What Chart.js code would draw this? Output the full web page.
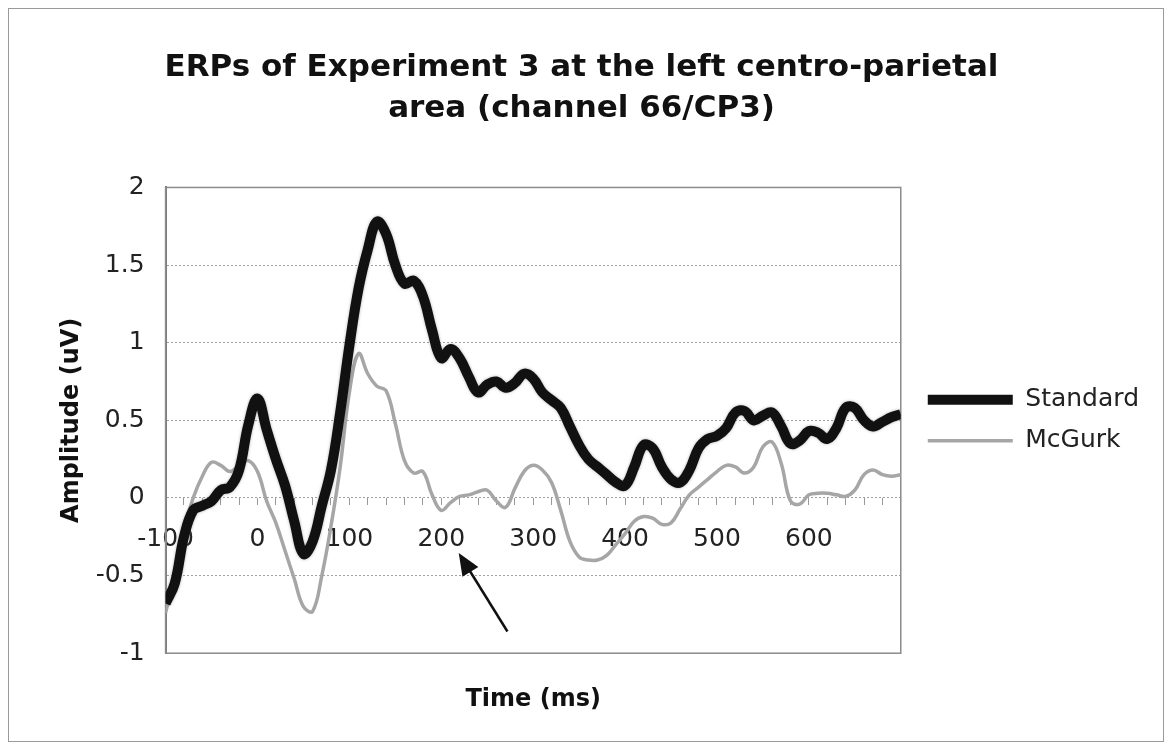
<!DOCTYPE html>
<html lang="en">
<head>
    <meta charset="UTF-8">
    <title>ERPs of Experiment 3</title>
    <script src="https://cdn.jsdelivr.net/npm/chart.js"></script>
    <style>
        body {
            margin: 0;
            background-color: #ffffff;
        }
        .frame {
            position: absolute;
            left: 8px;
            top: 8px;
            width: 1154px;
            height: 732px;
            border: 1px solid #9a9a9a;
        }
        canvas {
            position: absolute;
            left: 0;
            top: 0;
        }
    </style>
</head>
<body>
    <div class="frame"></div>
    <canvas id="erpChart" width="1172" height="749"></canvas>

    <script>
        // time points (ms)
        const times = [-100, -90, -80, -70, -60, -50, -40, -30, -20, -10,
            0, 10, 20, 30, 40, 50, 60, 70, 80, 90,
            100, 110, 120, 130, 140, 150, 160, 170, 180, 190,
            200, 210, 220, 230, 240, 250, 260, 270, 280, 290,
            300, 310, 320, 330, 340, 350, 360, 370, 380, 390,
            400, 410, 420, 430, 440, 450, 460, 470, 480, 490,
            500, 510, 520, 530, 540, 550, 560, 570, 580, 590,
            600, 610, 620, 630, 640, 650, 660, 670, 680, 690, 700];

        // amplitude (uV)
        const standard = [-0.68, -0.55, -0.25, -0.08, -0.05, -0.02, 0.05, 0.07, 0.18, 0.47,
            0.64, 0.44, 0.25, 0.08, -0.15, -0.36, -0.28, -0.05, 0.18, 0.55,
            0.98, 1.35, 1.60, 1.78, 1.70, 1.50, 1.38, 1.40, 1.30, 1.08,
            0.90, 0.96, 0.90, 0.78, 0.68, 0.73, 0.75, 0.71, 0.74, 0.80,
            0.77, 0.68, 0.63, 0.58, 0.46, 0.34, 0.25, 0.20, 0.15, 0.10,
            0.08, 0.20, 0.34, 0.32, 0.20, 0.12, 0.10, 0.18, 0.32, 0.38,
            0.40, 0.45, 0.55, 0.56, 0.50, 0.53, 0.55, 0.46, 0.35, 0.37,
            0.43, 0.42, 0.38, 0.45, 0.58, 0.58, 0.50, 0.46, 0.49, 0.52, 0.54];

        const mcgurk = [-0.74, -0.50, -0.20, 0.00, 0.14, 0.23, 0.21, 0.17, 0.21, 0.24,
            0.17, -0.02, -0.16, -0.34, -0.52, -0.70, -0.73, -0.50, -0.18, 0.20,
            0.68, 0.93, 0.80, 0.72, 0.69, 0.48, 0.24, 0.16, 0.17, 0.02,
            -0.08, -0.03, 0.01, 0.02, 0.04, 0.05, -0.02, -0.06, 0.06, 0.17,
            0.21, 0.18, 0.10, -0.08, -0.28, -0.38, -0.40, -0.40, -0.37, -0.30,
            -0.23, -0.15, -0.12, -0.13, -0.17, -0.16, -0.07, 0.02, 0.07, 0.12,
            0.17, 0.21, 0.20, 0.16, 0.20, 0.33, 0.36, 0.22, -0.02, -0.04,
            0.02, 0.03, 0.03, 0.02, 0.01, 0.05, 0.15, 0.18, 0.15, 0.14, 0.15];

        const xLabels = [-100, 0, 100, 200, 300, 400, 500, 600];

        // arrow annotation, [time, amplitude]
        const arrowFrom = [272, -0.86];
        const arrowTo = [219, -0.355];

        const FONT = '"DejaVu Sans", Verdana, sans-serif';

        // box around the plot area
        const plotFrame = {
            id: 'plotFrame',
            beforeDatasetsDraw(chart) {
                const a = chart.chartArea;
                const ctx = chart.ctx;
                ctx.save();
                ctx.strokeStyle = '#8c8c8c';
                ctx.lineWidth = 1.5;
                ctx.strokeRect(a.left, a.top, a.right - a.left, a.bottom - a.top);
                ctx.restore();
            }
        };

        // soft grey halo behind the thick line
        const halo = {
            id: 'halo',
            beforeDatasetDraw(chart, args) {
                if (args.index === 0) {
                    chart.ctx.save();
                    chart.ctx.shadowColor = 'rgba(120,120,120,0.6)';
                    chart.ctx.shadowBlur = 3;
                }
            },
            afterDatasetDraw(chart, args) {
                if (args.index === 0) chart.ctx.restore();
            }
        };

        const arrow = {
            id: 'arrow',
            afterDatasetsDraw(chart) {
                const xs = chart.scales.x, ys = chart.scales.y, ctx = chart.ctx;
                const x0 = xs.getPixelForValue(arrowFrom[0]), y0 = ys.getPixelForValue(arrowFrom[1]);
                const x1 = xs.getPixelForValue(arrowTo[0]), y1 = ys.getPixelForValue(arrowTo[1]);
                const ang = Math.atan2(y1 - y0, x1 - x0);
                const len = 24, half = 0.4;
                ctx.save();
                ctx.strokeStyle = '#111';
                ctx.fillStyle = '#111';
                ctx.lineWidth = 2.5;
                ctx.beginPath();
                ctx.moveTo(x0, y0);
                ctx.lineTo(x1 - Math.cos(ang) * 12, y1 - Math.sin(ang) * 12);
                ctx.stroke();
                ctx.beginPath();
                ctx.moveTo(x1, y1);
                ctx.lineTo(x1 - len * Math.cos(ang - half), y1 - len * Math.sin(ang - half));
                ctx.lineTo(x1 - len * Math.cos(ang + half), y1 - len * Math.sin(ang + half));
                ctx.closePath();
                ctx.fill();
                ctx.restore();
            }
        };

        const ctx = document.getElementById('erpChart').getContext('2d');
        new Chart(ctx, {
            type: 'line',
            data: {
                datasets: [
                    {
                        label: 'Standard',
                        data: times.map((t, i) => ({ x: t, y: standard[i] })),
                        borderColor: '#111111',
                        backgroundColor: '#111111',
                        borderWidth: 10,
                        pointRadius: 0,
                        tension: 0.4
                    },
                    {
                        label: 'McGurk',
                        data: times.map((t, i) => ({ x: t, y: mcgurk[i] })),
                        borderColor: '#a6a6a6',
                        backgroundColor: '#a6a6a6',
                        borderWidth: 3.5,
                        pointRadius: 0,
                        tension: 0.4
                    }
                ]
            },
            options: {
                responsive: false,
                animation: false,
                layout: {
                    padding: { left: 14, right: 23, top: 10, bottom: 15 }
                },
                plugins: {
                    title: {
                        display: true,
                        text: ['ERPs of Experiment 3 at the left centro-parietal', 'area (channel 66/CP3)'],
                        color: '#111',
                        font: { family: FONT, size: 31, weight: 'bold', lineHeight: 1.33 },
                        padding: { top: 37, bottom: 58 }
                    },
                    legend: {
                        position: 'right',
                        fullSize: false,
                        maxWidth: 260,
                        labels: {
                            usePointStyle: true,
                            pointStyle: 'line',
                            pointStyleWidth: 85,
                            color: '#222',
                            padding: 16,
                            font: { family: FONT, size: 25 }
                        }
                    },
                    tooltip: { enabled: false }
                },
                scales: {
                    x: {
                        type: 'linear',
                        position: { y: 0 },
                        min: -100,
                        max: 700,
                        grid: {
                            drawOnChartArea: false,
                            tickLength: 7,
                            tickColor: '#999'
                        },
                        border: { display: false },
                        ticks: {
                            stepSize: 20,
                            autoSkip: false,
                            maxRotation: 0,
                            padding: 20,
                            color: '#222',
                            font: { family: FONT, size: 25 },
                            callback: (v) => xLabels.includes(v) ? String(v) : ''
                        }
                    },
                    xTitle: {
                        type: 'linear',
                        position: 'bottom',
                        min: -100,
                        max: 700,
                        grid: { display: false, drawTicks: false },
                        border: { display: false },
                        ticks: { display: false },
                        title: {
                            display: true,
                            text: 'Time (ms)',
                            color: '#111',
                            font: { family: FONT, size: 24, weight: 'bold' },
                            padding: { top: 32, bottom: 20 }
                        }
                    },
                    gap: {
                        type: 'linear',
                        position: 'right',
                        grid: { display: false, drawTicks: false },
                        border: { display: false },
                        ticks: { display: false },
                        afterFit: (s) => { s.width = 11; }
                    },
                    y: {
                        min: -1,
                        max: 2,
                        grid: {
                            color: '#a0a0a0',
                            lineWidth: 1,
                            drawTicks: true,
                            tickLength: 11,
                            tickColor: 'rgba(0,0,0,0)'
                        },
                        border: { color: '#7a7a7a', width: 2, dash: [2, 2] },
                        ticks: {
                            stepSize: 0.5,
                            padding: 10,
                            color: '#222',
                            font: { family: FONT, size: 25 },
                            callback: (v) => String(v)
                        },
                        title: {
                            display: true,
                            text: 'Amplitude (uV)',
                            color: '#111',
                            font: { family: FONT, size: 24, weight: 'bold' },
                            padding: { top: 43, bottom: 0 }
                        }
                    }
                }
            },
            plugins: [plotFrame, halo, arrow]
        });
    </script>
</body>
</html>
